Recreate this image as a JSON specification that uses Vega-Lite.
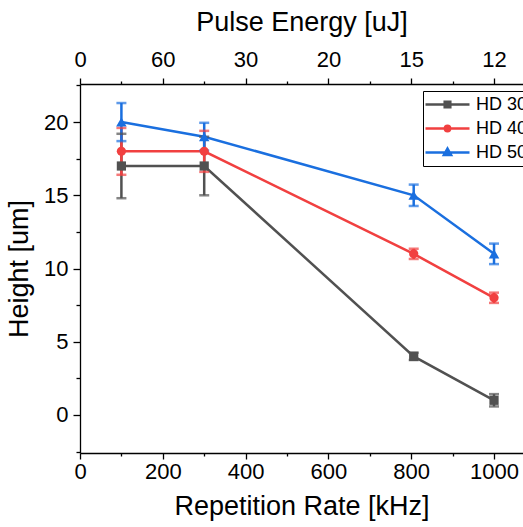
{
  "$schema": "https://vega.github.io/schema/vega-lite/v6.json",
  "width": 443,
  "height": 369,
  "autosize": {"type": "none"},
  "padding": {"left": 80, "top": 84, "right": 0, "bottom": 74},
  "config": {
    "view": {"stroke": null},
    "font": "Liberation Sans",
    "axis": {
      "grid": false,
      "domainColor": "black",
      "domainWidth": 1.3,
      "tickColor": "black",
      "tickWidth": 1.3,
      "labelColor": "black",
      "titleColor": "black",
      "labelFont": "Liberation Sans",
      "titleFont": "Liberation Sans",
      "labelFontSize": 22,
      "titleFontSize": 27,
      "titleFontWeight": "normal",
      "labelOverlap": false,
      "labelFlush": false
    }
  },
  "data": {
    "values": [
      {"rate": 100, "height": 17, "lo": 14.8, "hi": 19.2, "series": "HD 30"},
      {"rate": 300, "height": 17, "lo": 15.0, "hi": 19.0, "series": "HD 30"},
      {"rate": 806, "height": 4, "lo": 3.75, "hi": 4.25, "series": "HD 30"},
      {"rate": 1000, "height": 1, "lo": 0.58, "hi": 1.42, "series": "HD 30"},
      {"rate": 100, "height": 18, "lo": 16.4, "hi": 19.6, "series": "HD 40"},
      {"rate": 300, "height": 18, "lo": 16.6, "hi": 19.4, "series": "HD 40"},
      {"rate": 806, "height": 11, "lo": 10.65, "hi": 11.35, "series": "HD 40"},
      {"rate": 1000, "height": 8, "lo": 7.65, "hi": 8.35, "series": "HD 40"},
      {"rate": 100, "height": 20, "lo": 18.7, "hi": 21.3, "series": "HD 50"},
      {"rate": 300, "height": 19, "lo": 18.05, "hi": 19.95, "series": "HD 50"},
      {"rate": 806, "height": 15, "lo": 14.27, "hi": 15.73, "series": "HD 50"},
      {"rate": 1000, "height": 11, "lo": 10.3, "hi": 11.7, "series": "HD 50"}
    ]
  },
  "resolve": {"axis": {"x": "independent", "y": "independent"}},
  "layer": [
    {
      "mark": {"type": "line", "strokeWidth": 2.5},
      "encoding": {
        "x": {
          "field": "rate", "type": "quantitative",
          "scale": {"domain": [0, 1070], "nice": false, "zero": false},
          "axis": {
            "orient": "bottom",
            "format": "d",
            "values": [0, 100, 200, 300, 400, 500, 600, 700, 800, 900, 1000],
            "labelExpr": "datum.value % 200 == 0 ? datum.label : ''",
            "tickSize": {"condition": {"test": "datum.value % 200 != 0", "value": 3}, "value": 6},
            "labelPadding": 2,
            "title": "Repetition Rate [kHz]",
            "titlePadding": 11
          }
        },
        "y": {
          "field": "height", "type": "quantitative",
          "scale": {"domain": [-2.6, 22.6], "nice": false, "zero": false},
          "axis": {
            "orient": "left",
            "format": "d",
            "values": [-2.5, 0, 2.5, 5, 7.5, 10, 12.5, 15, 17.5, 20, 22.5],
            "labelExpr": "datum.value % 5 == 0 ? datum.label : ''",
            "tickSize": {"condition": {"test": "datum.value % 5 != 0", "value": 4}, "value": 7},
            "labelPadding": 5,
            "title": "Height [um]",
            "titlePadding": 10
          }
        },
        "color": {
          "field": "series", "type": "nominal",
          "scale": {"domain": ["HD 30", "HD 40", "HD 50"], "range": ["#515151", "#F14040", "#1A6FDF"]},
          "legend": {
            "orient": "none",
            "legendX": 343,
            "legendY": 7,
            "title": null,
            "strokeColor": "black",
            "fillColor": "white",
            "padding": 4,
            "labelFont": "Liberation Sans",
            "labelFontSize": 18,
            "labelColor": "black",
            "symbolSize": 256,
            "symbolStrokeWidth": 2.5,
            "symbolOffset": 11,
            "labelOffset": 19,
            "rowPadding": 5,
            "encode": {
              "symbols": {
                "update": {
                  "shape": {"signal": "datum.value === 'HD 30' ? 'M-2.75,0H2.75M-0.35,-0.35H0.35V0.35H-0.35Z' : datum.value === 'HD 40' ? 'M-2.75,0H2.75M0.33,0A0.33,0.33 0 1,1 -0.33,0A0.33,0.33 0 1,1 0.33,0Z' : 'M-2.75,0H2.75M0,-0.5L0.45,0.3L-0.45,0.3Z'"},
                  "fill": {"signal": "scale('color', datum.value)"}
                }
              }
            }
          }
        }
      }
    },
    {
      "mark": {"type": "rule", "strokeWidth": 2.5},
      "encoding": {
        "x": {
          "field": "rate", "type": "quantitative",
          "axis": {
            "orient": "top",
            "values": [0, 100, 200, 300, 400, 500, 600, 700, 800, 900, 1000],
            "labelExpr": "datum.value == 0 ? '0' : (datum.value % 200 == 0 ? format(12000 / datum.value, 'd') : '')",
            "tickSize": {"condition": {"test": "datum.value % 200 != 0", "value": 3}, "value": 6},
            "labelPadding": 7,
            "title": "Pulse Energy [uJ]",
            "titlePadding": 12
          }
        },
        "y": {"field": "lo", "type": "quantitative", "axis": null},
        "y2": {"field": "hi"},
        "color": {"field": "series", "type": "nominal", "legend": null}
      }
    },
    {
      "mark": {"type": "tick", "orient": "horizontal", "size": 10, "thickness": 2.5},
      "encoding": {
        "x": {"field": "rate", "type": "quantitative", "axis": null},
        "y": {"field": "lo", "type": "quantitative", "axis": null},
        "color": {"field": "series", "type": "nominal", "legend": null}
      }
    },
    {
      "mark": {"type": "tick", "orient": "horizontal", "size": 10, "thickness": 2.5},
      "encoding": {
        "x": {"field": "rate", "type": "quantitative", "axis": null},
        "y": {"field": "hi", "type": "quantitative", "axis": null},
        "color": {"field": "series", "type": "nominal", "legend": null}
      }
    },
    {
      "transform": [{"filter": "datum.series == 'HD 30'"}],
      "mark": {"type": "point", "filled": true, "opacity": 1, "shape": "square", "size": 85},
      "encoding": {
        "x": {"field": "rate", "type": "quantitative", "axis": null},
        "y": {"field": "height", "type": "quantitative", "axis": null},
        "color": {"field": "series", "type": "nominal", "legend": null}
      }
    },
    {
      "transform": [{"filter": "datum.series == 'HD 40'"}],
      "mark": {"type": "point", "filled": true, "opacity": 1, "shape": "circle", "size": 85},
      "encoding": {
        "x": {"field": "rate", "type": "quantitative", "axis": null},
        "y": {"field": "height", "type": "quantitative", "axis": null},
        "color": {"field": "series", "type": "nominal", "legend": null}
      }
    },
    {
      "transform": [{"filter": "datum.series == 'HD 50'"}],
      "mark": {"type": "point", "filled": true, "opacity": 1, "shape": "triangle-up", "size": 110},
      "encoding": {
        "x": {"field": "rate", "type": "quantitative", "axis": null},
        "y": {"field": "height", "type": "quantitative", "axis": null},
        "color": {"field": "series", "type": "nominal", "legend": null}
      }
    }
  ]
}
